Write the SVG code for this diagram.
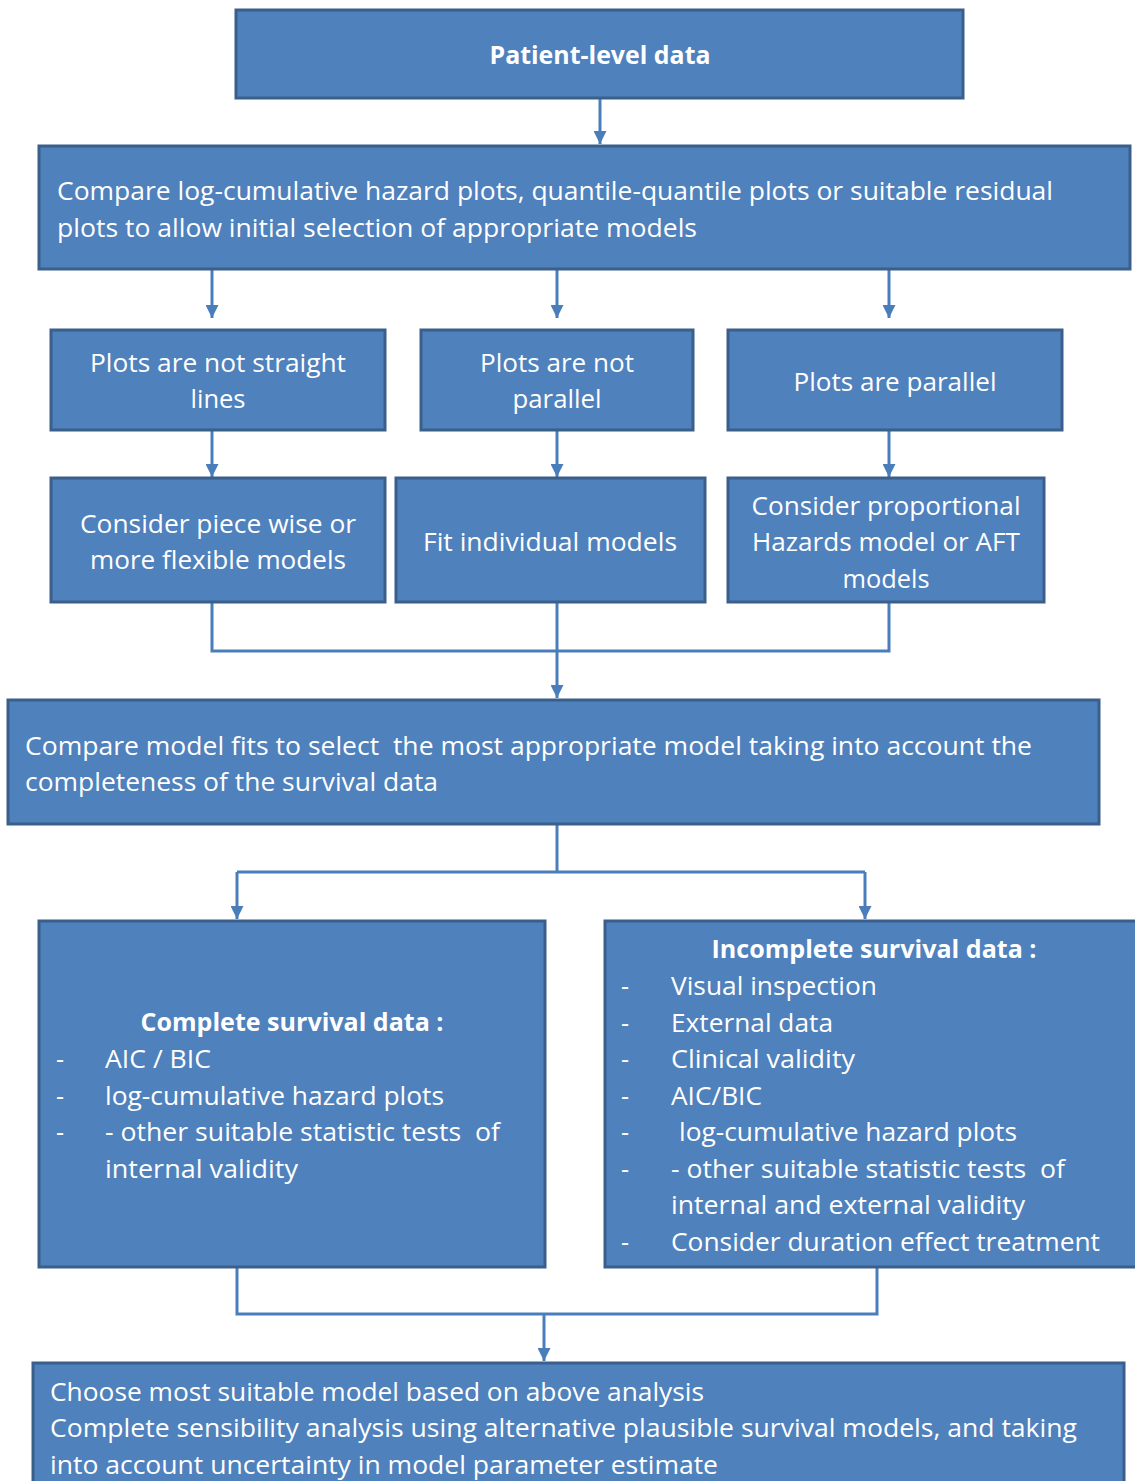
<svg xmlns="http://www.w3.org/2000/svg" width="1135" height="1481" viewBox="0 0 1135 1481">
<style>
.box{fill:#4F81BD;stroke:#3A5F8B;stroke-width:3}
text{font-family:"Open Sans","Liberation Sans",sans-serif;font-size:25px;fill:#FFFFFF;white-space:pre}
.b{font-weight:700}
.c{text-anchor:middle}
.con{fill:none;stroke:#4A7EBB;stroke-width:3}
</style>
<defs>
<marker id="ah" markerUnits="userSpaceOnUse" markerWidth="13" markerHeight="13" refX="12" refY="6" orient="auto" viewBox="0 0 12 12">
<path d="M0,0 L12,6 L0,12 z" fill="#4A7EBB"/>
</marker>
</defs>
<rect width="1135" height="1481" fill="#FFFFFF"/>
<g id="connectors">
<line class="con" x1="600" y1="98" x2="600" y2="144" marker-end="url(#ah)"/>
<line class="con" x1="212" y1="269" x2="212" y2="318" marker-end="url(#ah)"/>
<line class="con" x1="557" y1="269" x2="557" y2="318" marker-end="url(#ah)"/>
<line class="con" x1="889" y1="269" x2="889" y2="318" marker-end="url(#ah)"/>
<line class="con" x1="212" y1="430" x2="212" y2="477" marker-end="url(#ah)"/>
<line class="con" x1="557" y1="430" x2="557" y2="477" marker-end="url(#ah)"/>
<line class="con" x1="889" y1="430" x2="889" y2="477" marker-end="url(#ah)"/>
<polyline class="con" points="212,602 212,651 889,651 889,602"/>
<line class="con" x1="557" y1="602" x2="557" y2="698" marker-end="url(#ah)"/>
<polyline class="con" points="557,824 557,872"/>
<polyline class="con" points="237,872 865,872"/>
<line class="con" x1="237" y1="872" x2="237" y2="919" marker-end="url(#ah)"/>
<line class="con" x1="865" y1="872" x2="865" y2="919" marker-end="url(#ah)"/>
<polyline class="con" points="237,1267 237,1314 877,1314 877,1267"/>
<line class="con" x1="544" y1="1314" x2="544" y2="1361" marker-end="url(#ah)"/>
</g>
<g id="n1">
<rect class="box" x="236" y="10" width="727" height="88"/>
<text class="b c" x="600" y="64" textLength="221" lengthAdjust="spacingAndGlyphs">Patient-level data</text>
</g>
<g id="n2">
<rect class="box" x="39" y="146" width="1091" height="123"/>
<text x="57" y="200" textLength="996" lengthAdjust="spacingAndGlyphs">Compare log-cumulative hazard plots, quantile-quantile plots or suitable residual</text>
<text x="57" y="237" textLength="640" lengthAdjust="spacingAndGlyphs">plots to allow initial selection of appropriate models</text>
</g>
<g id="n3">
<rect class="box" x="51" y="330" width="334" height="100"/>
<text class="c" x="218" y="372" textLength="256" lengthAdjust="spacingAndGlyphs">Plots are not straight</text>
<text class="c" x="218" y="408" textLength="55" lengthAdjust="spacingAndGlyphs">lines</text>
</g>
<g id="n4">
<rect class="box" x="421" y="330" width="272" height="100"/>
<text class="c" x="557" y="372" textLength="154" lengthAdjust="spacingAndGlyphs">Plots are not</text>
<text class="c" x="557" y="408" textLength="89" lengthAdjust="spacingAndGlyphs">parallel</text>
</g>
<g id="n5">
<rect class="box" x="728" y="330" width="334" height="100"/>
<text class="c" x="895" y="391" textLength="203" lengthAdjust="spacingAndGlyphs">Plots are parallel</text>
</g>
<g id="n6">
<rect class="box" x="51" y="478" width="334" height="124"/>
<text class="c" x="218" y="533" textLength="276" lengthAdjust="spacingAndGlyphs">Consider piece wise or</text>
<text class="c" x="218" y="569" textLength="256" lengthAdjust="spacingAndGlyphs">more flexible models</text>
</g>
<g id="n7">
<rect class="box" x="396" y="478" width="309" height="124"/>
<text class="c" x="550" y="551" textLength="254" lengthAdjust="spacingAndGlyphs">Fit individual models</text>
</g>
<g id="n8">
<rect class="box" x="728" y="478" width="316" height="124"/>
<text class="c" x="886" y="515" textLength="269" lengthAdjust="spacingAndGlyphs">Consider proportional</text>
<text class="c" x="886" y="551" textLength="268" lengthAdjust="spacingAndGlyphs">Hazards model or AFT</text>
<text class="c" x="886" y="588" textLength="87" lengthAdjust="spacingAndGlyphs">models</text>
</g>
<g id="n9">
<rect class="box" x="8" y="700" width="1091" height="124"/>
<text x="25" y="755" textLength="1007" lengthAdjust="spacingAndGlyphs">Compare model fits to select  the most appropriate model taking into account the</text>
<text x="25" y="791" textLength="413" lengthAdjust="spacingAndGlyphs">completeness of the survival data</text>
</g>
<g id="n10">
<rect class="box" x="39" y="921" width="506" height="346"/>
<text class="b c" x="292" y="1031" textLength="303" lengthAdjust="spacingAndGlyphs">Complete survival data :</text>
<text x="56" y="1068">-</text>
<text x="105" y="1068" textLength="106" lengthAdjust="spacingAndGlyphs">AIC / BIC</text>
<text x="56" y="1105">-</text>
<text x="105" y="1105" textLength="339" lengthAdjust="spacingAndGlyphs">log-cumulative hazard plots</text>
<text x="56" y="1141">-</text>
<text x="105" y="1141" textLength="395" lengthAdjust="spacingAndGlyphs">- other suitable statistic tests  of</text>
<text x="105" y="1178" textLength="193" lengthAdjust="spacingAndGlyphs">internal validity</text>
</g>
<g id="n11">
<rect class="box" x="605" y="921" width="545" height="346"/>
<text class="b c" x="874" y="958" textLength="325" lengthAdjust="spacingAndGlyphs">Incomplete survival data :</text>
<text x="621" y="995">-</text>
<text x="671" y="995" textLength="206" lengthAdjust="spacingAndGlyphs">Visual inspection</text>
<text x="621" y="1032">-</text>
<text x="671" y="1032" textLength="162" lengthAdjust="spacingAndGlyphs">External data</text>
<text x="621" y="1068">-</text>
<text x="671" y="1068" textLength="184" lengthAdjust="spacingAndGlyphs">Clinical validity</text>
<text x="621" y="1105">-</text>
<text x="671" y="1105" textLength="91" lengthAdjust="spacingAndGlyphs">AIC/BIC</text>
<text x="621" y="1141">-</text>
<text x="679" y="1141" textLength="338" lengthAdjust="spacingAndGlyphs">log-cumulative hazard plots</text>
<text x="621" y="1178">-</text>
<text x="671" y="1178" textLength="394" lengthAdjust="spacingAndGlyphs">- other suitable statistic tests  of</text>
<text x="671" y="1214" textLength="354" lengthAdjust="spacingAndGlyphs">internal and external validity</text>
<text x="621" y="1251">-</text>
<text x="671" y="1251" textLength="429" lengthAdjust="spacingAndGlyphs">Consider duration effect treatment</text>
</g>
<g id="n12">
<rect class="box" x="33" y="1363" width="1091" height="130"/>
<text x="50" y="1401" textLength="654" lengthAdjust="spacingAndGlyphs">Choose most suitable model based on above analysis</text>
<text x="50" y="1437" textLength="1027" lengthAdjust="spacingAndGlyphs">Complete sensibility analysis using alternative plausible survival models, and taking</text>
<text x="50" y="1474" textLength="668" lengthAdjust="spacingAndGlyphs">into account uncertainty in model parameter estimate</text>
</g>
</svg>
